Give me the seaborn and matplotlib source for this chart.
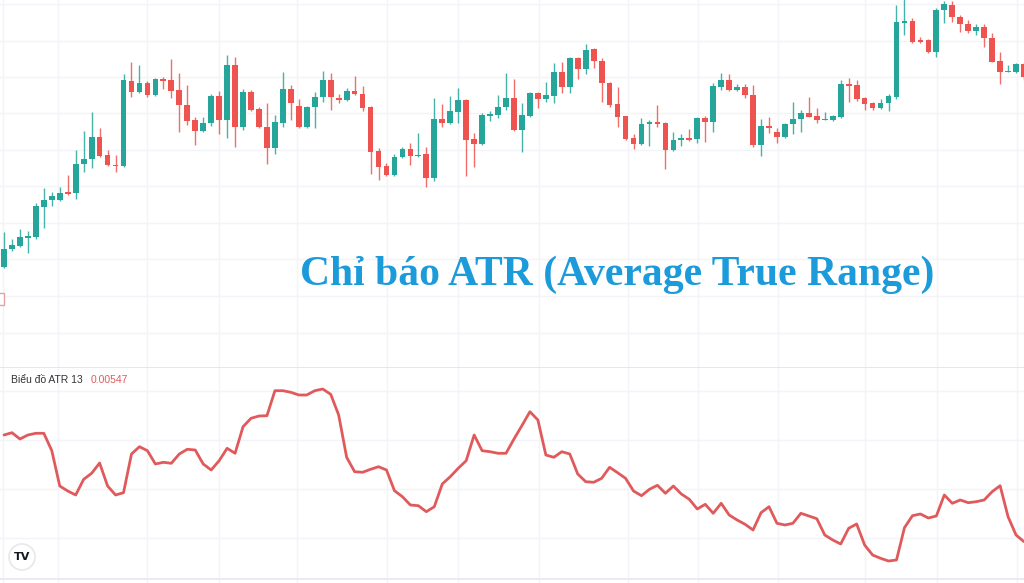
import matplotlib
matplotlib.use("Agg")
import matplotlib.pyplot as plt
import matplotlib.patches as mpatches
import matplotlib.transforms as mtransforms
import numpy as np
import pandas as pd
import seaborn as sns

# candle values (chart rows, larger = lower price)
opens = [267, 249, 246, 238, 237, 207, 200, 200, 192, 193, 164, 159, 137, 155, 164.5, 166,
         81, 92, 83, 95, 79, 80, 90, 105, 120, 131, 123, 96, 120, 65, 127, 92,
         109, 127, 148, 123, 89, 106, 127, 107, 97, 80, 98, 100, 91, 94, 107, 151,
         166, 175, 157, 149, 156, 154, 178, 119, 123, 112, 100, 139, 144, 116, 115, 107,
         98, 130, 116, 93, 99, 96, 72, 87, 58, 69, 49, 61, 83, 104, 116, 138,
         144, 124, 122, 123, 150, 140, 138, 139, 118, 122, 87, 80, 90, 87, 95, 145,
         126, 132, 137, 124, 119, 113, 116, 120, 120, 117, 84, 85, 98, 103, 108, 103,
         97, 23, 21, 40, 40, 52, 10, 5, 17, 24, 31, 27, 38, 61, 72, 72, 64]
highs = [232, 239, 229, 231, 203, 188, 192, 187, 175, 150, 131, 112, 128, 150, 155, 74,
         62, 65, 81, 78, 77, 59, 73, 85, 117, 117, 94, 91, 55, 57, 89, 90,
         107, 103, 115, 72, 85, 99, 106, 92, 71, 73, 94, 88, 76, 86, 106, 148,
         163, 154, 147, 143, 133, 147, 98, 104, 96, 88, 99, 133, 113, 111, 95, 73,
         79, 103, 92, 92, 82, 63, 62, 57, 57, 44, 48, 58, 82, 87, 116, 134,
         118, 120, 105, 122, 132, 134, 129, 117, 116, 83, 73, 74, 84, 84, 85, 119,
         117, 128, 123, 102, 110, 97, 108, 112, 115, 80, 78, 80, 97, 102, 99, 94,
         5, -2, 18, 37, 39, 8, 1, 1, 15, 20, 24, 24, 33, 52, 65, 63, 62]
lows = [268, 251, 247, 253, 239, 228, 206, 201, 195, 199, 172, 168, 157, 166, 172, 167,
        97, 93, 97, 96, 89, 98, 132, 125, 145, 132, 126, 134, 138, 147, 130, 111,
        128, 164, 154, 127, 120, 128, 128, 128, 102, 110, 103, 101, 95, 111, 174, 180,
        176, 176, 158, 165, 157, 187, 181, 127, 124, 123, 176, 167, 145, 121, 118, 110,
        131, 152, 117, 108, 102, 103, 93, 93, 79, 74, 68, 102, 107, 127, 140, 149,
        145, 146, 127, 169, 151, 146, 141, 143, 142, 132, 90, 91, 91, 98, 147, 156,
        133, 143, 138, 134, 132, 117, 123, 120, 121, 118, 102, 101, 110, 110, 109, 111,
        99, 35, 43, 43, 53, 57, 23, 22, 32, 33, 35, 47, 62, 84, 72, 73, 80]
closes = [249, 245, 237, 236, 206, 200, 196, 193, 193.5, 164, 159, 137, 156, 165, 166, 80,
          92, 83, 95, 79, 81, 91, 105, 121, 131, 123, 96, 120, 65, 127, 92, 110,
          127, 148, 122, 89, 103, 127, 107, 97, 80, 97, 100, 91, 94, 108, 152, 167,
          175, 157, 149, 156, 154.5, 178, 119, 123, 111, 100, 140, 144, 115, 114, 107, 98,
          130, 115, 93, 99, 95, 72, 87, 58, 69, 50, 61, 83, 105, 117, 139, 144,
          124, 122, 123.5, 150, 140, 138, 140, 118, 122, 86, 80, 90, 87, 95, 145, 126,
          128, 137, 124, 119, 113, 117, 120, 119, 116, 84, 86, 99, 104, 108, 103, 96,
          22, 21, 42, 42, 52, 10, 4, 17, 24, 31, 27, 38, 62, 72, 71, 64, 77]

# ATR 13 line, same rows scale for the lower pane
atr = [435, 432.7, 439, 435, 433.3, 433.3, 450.7, 486, 491, 495, 479.3, 473.3, 463, 486, 495, 492.7,
       454, 446.7, 450.7, 464, 462.3, 463.3, 454, 449.3, 450, 464, 470, 460.7, 448.3, 453.3, 426.7, 418.3,
       416, 415.7, 390.7, 390.7, 392.3, 395, 395, 390.7, 389, 394.3, 415, 457.3, 471.7, 472.3, 469.3, 466.7,
       470, 490.7, 496.7, 505, 505.7, 511.7, 506.7, 484, 476.7, 468.3, 460.7, 435, 450.7, 451.7, 453.3, 453.3,
       439, 425.5, 411.7, 420, 455, 457.3, 451.7, 454, 474, 481.7, 482.3, 478.3, 467.3, 472.7, 478.3, 491,
       495.7, 489.3, 485.3, 493.3, 486, 494, 499.3, 509, 504.3, 513.3, 503.3, 515, 520, 524.3, 530, 512.7,
       506.7, 523.3, 525, 523.3, 513.3, 516, 518.7, 535, 540, 544, 528.3, 524, 545, 555, 558.3, 561,
       560, 527.7, 515.7, 514, 518, 516, 495, 503.3, 500, 502.7, 501.7, 500, 491.7, 485.7, 516.7, 535, 541.7]

grid_x = [-0.1, 6.8, 17.9, 27.0, 36.8, 48.1, 57.0, 67.1, 78.3, 87.1, 97.1, 108.0, 117.1, 127.1]
grid_top = [4, 41, 77, 113, 150, 186, 223, 259, 296, 333]
grid_bottom = [391, 440, 489, 538]

title = "Chỉ báo ATR (Average True Range)"
atr_label = "Biểu đồ ATR 13"
atr_value = "0.00547"

UP = "#26a69a"
DOWN = "#ef5350"
GRID = "#f2f4f9"

sns.set_theme(style="white")
plt.rcParams["font.family"] = ["Liberation Sans", "DejaVu Sans"]

df = pd.DataFrame({"open": opens, "high": highs, "low": lows, "close": closes})
df["idx"] = np.arange(len(df))
df["color"] = np.where(df["close"] > df["open"], DOWN, UP)
atr_df = pd.DataFrame({"idx": np.arange(len(atr)), "atr": atr})

fig = plt.figure(figsize=(10.24, 5.83), dpi=100)
fig.patch.set_facecolor("white")
ax1 = fig.add_axes([0, 216 / 583, 1, 367 / 583])
ax2 = fig.add_axes([0, 0, 1, 216 / 583])

for ax in (ax1, ax2):
    ax.set_facecolor("white")
    ax.set_xlim(-0.5, 128.0)
    ax.set_xticks(grid_x)
    ax.grid(True, color=GRID, lw=1)
    ax.tick_params(left=False, bottom=False, labelleft=False, labelbottom=False)
    for s in ax.spines.values():
        s.set_visible(False)
    ax.set_axisbelow(True)

# candles
ax1.set_ylim(367, 0)
ax1.set_yticks(grid_top)
ax1.vlines(df["idx"], df["high"], df["low"], colors=df["color"], lw=1, alpha=0.85)
body = (df["close"] - df["open"]).abs().clip(lower=1.3)
ax1.bar(df["idx"], body, bottom=df[["open", "close"]].min(axis=1), width=0.72,
        color=df["color"], linewidth=0)

# ATR pane
ax2.set_ylim(583, 367)
ax2.set_yticks(grid_bottom)
sns.lineplot(data=atr_df, x="idx", y="atr", ax=ax2, color="#e05a5c", lw=2.0)
ax2.set_xlabel("")
ax2.set_ylabel("")
ax2.set_xlim(-0.5, 128.0)
ax2.set_ylim(583, 367)

# pane separator and bottom border
ax2.axhline(367, color="#e0e3eb", lw=1.2)
ax2.axhline(578.5, color="#e6e8ee", lw=1.2)

px = mtransforms.IdentityTransform()
# cut-off price label at the left edge
fig.add_artist(mpatches.Rectangle((-2, 583 - 305), 6, 12, transform=px,
                                  facecolor="white", edgecolor="#e3a3a3", lw=1))

fig.text(11 / 1024, 1 - 380 / 583, atr_label, fontsize=7.5, color="#333333", va="center")
fig.text(91 / 1024, 1 - 380 / 583, atr_value, fontsize=7.5, color="#e05a5c", va="center")

fig.text(300 / 1024, 1 - 285 / 583, title, family=["Liberation Serif", "DejaVu Serif"],
         fontsize=30, fontweight="bold", color="#1b9bd9", va="baseline")

# TradingView logo
fig.add_artist(mpatches.Circle((22, 583 - 557), 13, transform=px,
                               facecolor="white", edgecolor="#e8e8e8", lw=1.2))
fig.text(22 / 1024, 1 - 557 / 583, "TV", fontsize=8, fontweight="heavy",
         color="#131722", ha="center", va="center", family=["DejaVu Sans"])

fig.savefig("out.png", dpi=100)
